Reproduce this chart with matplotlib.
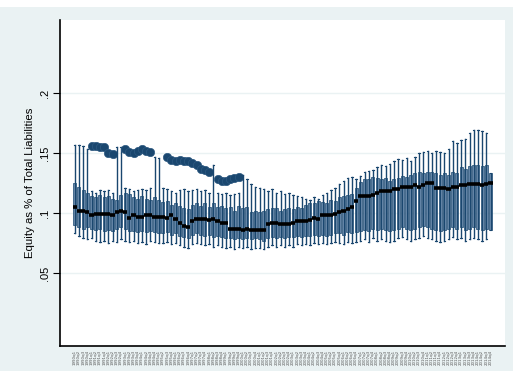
import numpy as np
import matplotlib
matplotlib.use("Agg")
import matplotlib.pyplot as plt

# quarterly distribution of equity / total liabilities across banks
quarters = [f"{y}q{q}" for y in range(1990, 2015) for q in range(1, 5)]

med = [0.105, 0.102, 0.102, 0.101, 0.098, 0.099, 0.099, 0.099, 0.099, 0.098,
       0.101, 0.102, 0.101, 0.096, 0.098, 0.097, 0.097, 0.098, 0.098, 0.097,
       0.097, 0.097, 0.096, 0.098, 0.095, 0.092, 0.089, 0.088, 0.093, 0.095,
       0.095, 0.095, 0.094, 0.095, 0.093, 0.092, 0.092, 0.087, 0.087, 0.087,
       0.086, 0.087, 0.086, 0.086, 0.086, 0.086, 0.091, 0.092, 0.092, 0.091,
       0.091, 0.091, 0.092, 0.093, 0.093, 0.093, 0.094, 0.096, 0.095, 0.098,
       0.098, 0.098, 0.099, 0.101, 0.102, 0.103, 0.105, 0.110, 0.114, 0.114,
       0.114, 0.115, 0.117, 0.118, 0.118, 0.118, 0.120, 0.120, 0.122, 0.122,
       0.122, 0.123, 0.122, 0.123, 0.125, 0.125, 0.121, 0.121, 0.121, 0.120,
       0.122, 0.122, 0.123, 0.123, 0.124, 0.124, 0.124, 0.123, 0.124, 0.125]

q3 = [0.125, 0.122, 0.119, 0.117, 0.114, 0.113, 0.115, 0.113, 0.114, 0.112,
      0.111, 0.115, 0.117, 0.116, 0.113, 0.112, 0.114, 0.112, 0.111, 0.113,
      0.111, 0.109, 0.110, 0.107, 0.108, 0.106, 0.104, 0.103, 0.107, 0.108,
      0.106, 0.108, 0.105, 0.108, 0.105, 0.106, 0.104, 0.105, 0.102, 0.106,
      0.104, 0.105, 0.101, 0.102, 0.101, 0.102, 0.103, 0.104, 0.104, 0.102,
      0.103, 0.104, 0.103, 0.105, 0.104, 0.107, 0.108, 0.108, 0.110, 0.109,
      0.108, 0.111, 0.110, 0.113, 0.114, 0.115, 0.116, 0.121, 0.126, 0.128,
      0.128, 0.130, 0.129, 0.128, 0.129, 0.127, 0.128, 0.129, 0.131, 0.130,
      0.132, 0.133, 0.134, 0.133, 0.134, 0.134, 0.133, 0.132, 0.133, 0.132,
      0.134, 0.133, 0.138, 0.137, 0.139, 0.140, 0.140, 0.139, 0.140, 0.133]

q1 = [0.090, 0.088, 0.087, 0.088, 0.087, 0.086, 0.087, 0.085, 0.086, 0.085,
      0.087, 0.088, 0.087, 0.085, 0.085, 0.084, 0.085, 0.084, 0.085, 0.084,
      0.083, 0.083, 0.084, 0.082, 0.083, 0.081, 0.080, 0.079, 0.082, 0.083,
      0.082, 0.081, 0.082, 0.080, 0.081, 0.080, 0.079, 0.079, 0.078, 0.079,
      0.078, 0.079, 0.078, 0.079, 0.078, 0.077, 0.079, 0.080, 0.079, 0.080,
      0.079, 0.080, 0.080, 0.081, 0.080, 0.081, 0.081, 0.082, 0.081, 0.082,
      0.081, 0.082, 0.083, 0.083, 0.082, 0.084, 0.083, 0.084, 0.085, 0.086,
      0.085, 0.087, 0.086, 0.087, 0.086, 0.085, 0.086, 0.087, 0.088, 0.087,
      0.086, 0.087, 0.088, 0.089, 0.088, 0.087, 0.086, 0.085, 0.086, 0.087,
      0.088, 0.087, 0.088, 0.086, 0.087, 0.088, 0.087, 0.086, 0.087, 0.086]

lo = [0.083, 0.081, 0.079, 0.078, 0.079, 0.077, 0.076, 0.077, 0.075, 0.077,
      0.076, 0.078, 0.077, 0.076, 0.077, 0.075, 0.076, 0.074, 0.077, 0.076,
      0.075, 0.075, 0.076, 0.074, 0.075, 0.073, 0.072, 0.071, 0.074, 0.075,
      0.074, 0.073, 0.074, 0.072, 0.073, 0.072, 0.071, 0.072, 0.070, 0.072,
      0.071, 0.072, 0.070, 0.071, 0.071, 0.070, 0.072, 0.073, 0.072, 0.073,
      0.072, 0.073, 0.072, 0.074, 0.073, 0.074, 0.073, 0.075, 0.074, 0.075,
      0.074, 0.075, 0.076, 0.075, 0.074, 0.076, 0.075, 0.076, 0.077, 0.078,
      0.076, 0.079, 0.077, 0.078, 0.077, 0.076, 0.077, 0.079, 0.080, 0.078,
      0.077, 0.078, 0.079, 0.081, 0.079, 0.078, 0.077, 0.076, 0.077, 0.078,
      0.080, 0.078, 0.079, 0.077, 0.078, 0.079, 0.078, 0.077, 0.078, 0.086]

hi = [0.157, 0.157, 0.156, 0.153, 0.118, 0.117, 0.119, 0.118, 0.119, 0.117,
      0.155, 0.155, 0.121, 0.120, 0.118, 0.119, 0.120, 0.119, 0.121, 0.147,
      0.146, 0.121, 0.120, 0.118, 0.117, 0.119, 0.120, 0.118, 0.119, 0.120,
      0.118, 0.119, 0.117, 0.140, 0.117, 0.116, 0.117, 0.115, 0.116, 0.117,
      0.132, 0.128, 0.124, 0.122, 0.121, 0.120, 0.118, 0.120, 0.117, 0.118,
      0.116, 0.117, 0.115, 0.114, 0.113, 0.112, 0.111, 0.113, 0.112, 0.115,
      0.117, 0.119, 0.121, 0.124, 0.127, 0.129, 0.130, 0.128, 0.131, 0.134,
      0.135, 0.136, 0.138, 0.140, 0.139, 0.141, 0.143, 0.145, 0.144, 0.146,
      0.143, 0.147, 0.150, 0.151, 0.152, 0.150, 0.152, 0.151, 0.150, 0.153,
      0.160, 0.158, 0.161, 0.162, 0.167, 0.169, 0.169, 0.168, 0.167, 0.133]

# outside values (one bank well above the upper whisker)
outliers = {4: 0.156, 5: 0.156, 6: 0.155, 7: 0.155, 8: 0.150, 9: 0.149,
            12: 0.153, 13: 0.151, 14: 0.150, 15: 0.152, 16: 0.153, 17: 0.152,
            18: 0.151, 22: 0.147, 23: 0.144, 24: 0.143, 25: 0.144, 26: 0.143,
            27: 0.143, 28: 0.142, 29: 0.140, 30: 0.137, 31: 0.136, 32: 0.134,
            34: 0.128, 35: 0.127, 36: 0.127, 37: 0.128, 38: 0.129, 39: 0.130}

yticks = [0.05, 0.1, 0.15, 0.2]
ytick_labels = [".05", ".1", ".15", ".2"]

navy = "#1A476F"
fill = "#6E8DAE"
bg = "#EAF2F3"

stats = []
for i in range(len(quarters)):
    stats.append(dict(med=med[i], q1=q1[i], q3=q3[i], whislo=lo[i], whishi=hi[i],
                      fliers=[outliers[i]] if i in outliers else []))

fig = plt.figure(figsize=(5.13, 3.71), dpi=100, facecolor=bg)
# thin white strip along the top edge
fig.patches.append(plt.Rectangle((0, 1 - 7 / 371), 1, 7 / 371, transform=fig.transFigure,
                                 facecolor="white", edgecolor="none", zorder=0))
ax = fig.add_axes([60 / 513, 25 / 371, 445 / 513, 326 / 371])
ax.set_facecolor("white")

pos = np.arange(len(quarters))
parts = ax.bxp(stats, positions=pos, widths=0.72, patch_artist=True,
               capwidths=0.3,
               boxprops=dict(facecolor=fill, edgecolor=navy, linewidth=0.5),
               whiskerprops=dict(color=navy, linewidth=1.0),
               capprops=dict(color=navy, linewidth=0.8),
               medianprops=dict(color="black", linewidth=2.6, solid_capstyle="butt", zorder=4),
               flierprops=dict(marker="o", markerfacecolor=navy, markeredgecolor="#2E5A82",
                               markeredgewidth=0.5, markersize=6))

# dark spine running through each box
ax.vlines(pos, q1, q3, color=navy, linewidth=0.9, zorder=3)

# stretch the median bars a little past the boxes
for line in parts["medians"]:
    x = line.get_xdata()
    line.set_xdata([x[0] - 0.12, x[1] + 0.12])

ax.set_xlim(-3.5, 102.45)
ax.set_ylim(-0.011, 0.261)

ax.set_yticks(yticks)
ax.set_yticklabels(ytick_labels, rotation=90, va="center", fontsize=8,
                   family="Liberation Sans")
ax.yaxis.grid(True, color=bg, linewidth=1.0)
ax.set_axisbelow(True)
ax.tick_params(axis="y", length=5, width=0.8, pad=2)

ax.set_xticks(pos)
ax.set_xticklabels(quarters, rotation=90, fontsize=2.9, color="#555555")
ax.tick_params(axis="x", length=0, pad=3)

ax.set_ylabel("Equity as % of Total Liabilities", fontsize=8.2,
              family="Liberation Sans", labelpad=4)

for side in ("top", "right"):
    ax.spines[side].set_visible(False)
for side in ("left", "bottom"):
    ax.spines[side].set_linewidth(1.2)

fig.savefig("out.png", dpi=100, facecolor=fig.get_facecolor())
